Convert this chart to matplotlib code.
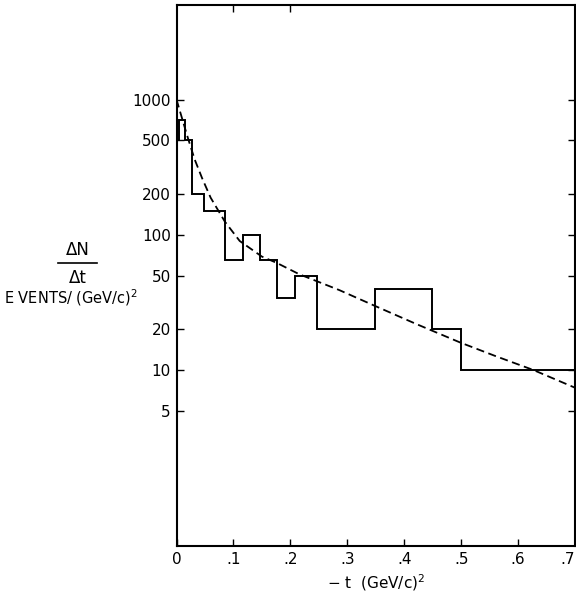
import matplotlib
matplotlib.use("Agg")
import matplotlib.pyplot as plt
from matplotlib.ticker import NullLocator

# Histogram (step) data: bin edges in -t (GeV/c)^2 and events/(GeV/c)^2
bin_edges = [0.0, 0.005, 0.015, 0.027, 0.048, 0.086, 0.117, 0.147, 0.177,
             0.208, 0.247, 0.348, 0.448, 0.5, 0.7]
bin_values = [500, 700, 500, 200, 150, 65, 100, 65, 34, 50, 20, 40, 20, 10]

# Dashed fit curve
curve_t = [0.0, 0.01, 0.02, 0.032, 0.045, 0.06, 0.085, 0.111, 0.15, 0.176,
           0.216, 0.286, 0.347, 0.42, 0.498, 0.56, 0.627, 0.7]
curve_v = [1000, 720, 520, 360, 262, 188, 125, 90, 69, 62,
           51, 39, 30, 22, 16, 12.7, 10, 7.4]

y_ticks = [5, 10, 20, 50, 100, 200, 500, 1000]
y_ticklabels = ["5", "10", "20", "50", "100", "200", "500", "1000"]
x_ticks = [0, 0.1, 0.2, 0.3, 0.4, 0.5, 0.6, 0.7]
x_ticklabels = ["0", ".1", ".2", ".3", ".4", ".5", ".6", ".7"]

fig = plt.figure(figsize=(5.76, 5.98), dpi=100)
ax = fig.add_axes([176.5 / 576, 52 / 598, (575 - 176.5) / 576, (546 - 5) / 598])

ax.stairs(bin_values, bin_edges, color="black", linewidth=1.4, baseline=None)
ax.plot(curve_t, curve_v, color="black", linewidth=1.3, linestyle=(0, (4.5, 2.5)))

ax.set_yscale("log")
ax.set_xlim(0, 0.7)
ax.set_ylim(0.5, 5000)
ax.set_yticks(y_ticks)
ax.set_yticklabels(y_ticklabels)
ax.yaxis.set_minor_locator(NullLocator())
ax.set_xticks(x_ticks)
ax.set_xticklabels(x_ticklabels)

ax.tick_params(axis="both", direction="in", length=5, width=1.0,
               labelsize=11, right=True, pad=4)
ax.get_xticklabels()[-1].set_horizontalalignment("right")
for s in ax.spines.values():
    s.set_linewidth(1.5)

sec = ax.secondary_xaxis("top")
sec.set_xticks([0.1, 0.2])
sec.set_xticklabels(["", ""])
sec.tick_params(direction="in", length=5, width=1.0)
sec.spines["top"].set_visible(False)

ax.set_xlabel("$-$ t  (GeV/c)$^2$", fontsize=11, labelpad=4)

# Y label: fraction dN/dt and units
fig.text(78 / 576, 1 - 250 / 598, "ΔN", ha="center", va="center", fontsize=12)
fig.add_artist(plt.Line2D([58 / 576, 97 / 576], [1 - 263 / 598, 1 - 263 / 598],
                          color="black", linewidth=1.2))
fig.text(78 / 576, 1 - 278 / 598, "Δt", ha="center", va="center", fontsize=12)
fig.text(4 / 576, 1 - 298 / 598, "E VENTS/ (GeV/c)$^2$", ha="left", va="center",
         fontsize=10.5)

fig.savefig("out.png", dpi=100)
